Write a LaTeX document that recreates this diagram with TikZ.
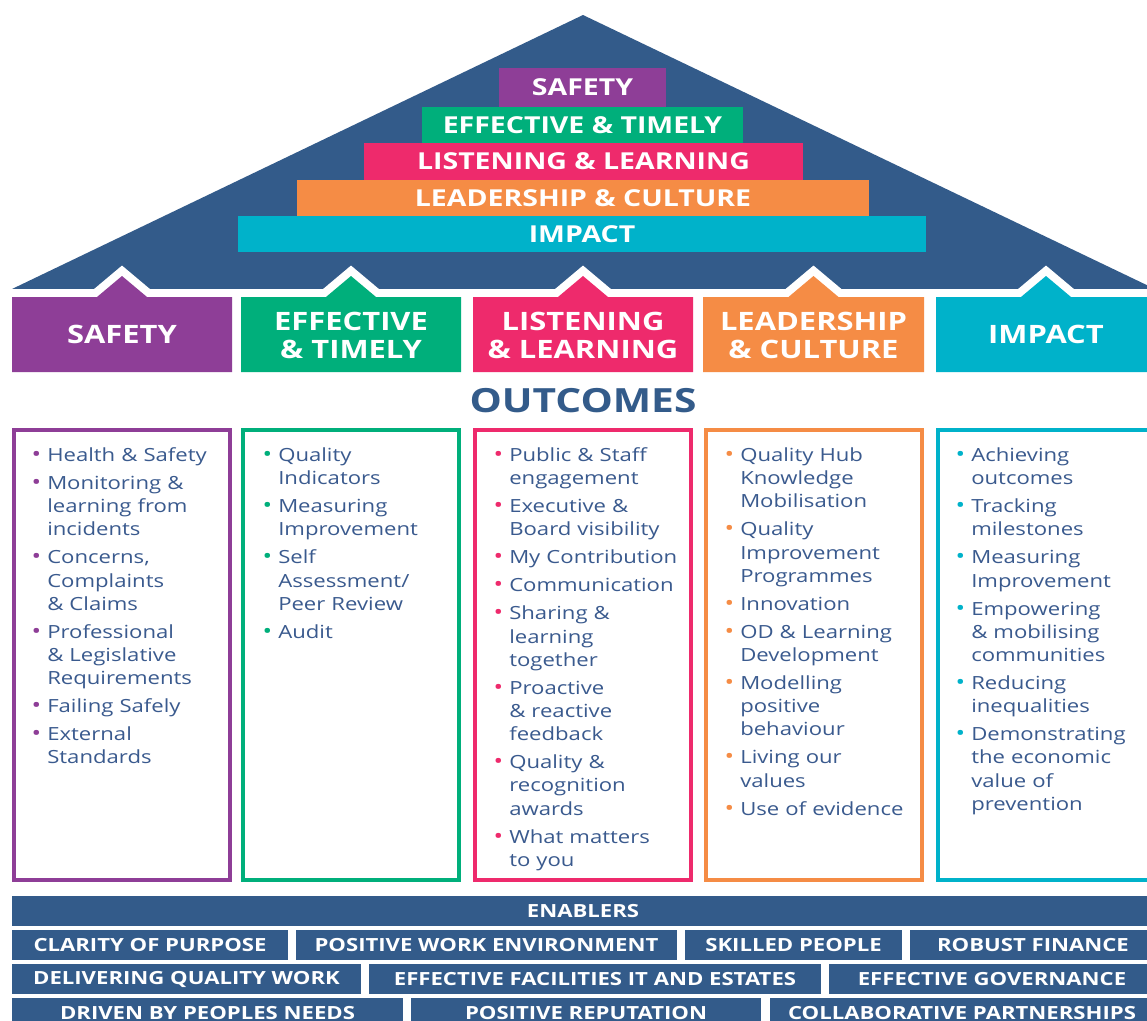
\documentclass[tikz,border=0pt]{standalone}
\usepackage{fontspec}
\setmainfont{Open Sans}[FakeStretch=1.22]
\usepackage{graphicx}
\definecolor{navy}{HTML}{335B8A}
\definecolor{cpur}{HTML}{8E3E97}
\definecolor{cgrn}{HTML}{00AF7B}
\definecolor{cpink}{HTML}{EE2A6C}
\definecolor{corg}{HTML}{F58C45}
\definecolor{cteal}{HTML}{00B2CA}
\definecolor{txtblue}{HTML}{3A5A8E}
\newcommand\itm{\leavevmode\llap{\textcolor{\bcol}{\scalebox{1.15}{\textbullet}}\hspace{4.5pt}}}
\tikzset{
  band/.style={inner sep=0pt, outer sep=0pt, text=white, font=\bfseries\fontsize{17.5}{19}\selectfont},
  hd/.style={inner sep=0pt, text=white, align=center, font=\bfseries\fontsize{19}{21}\selectfont},
  obox/.style={line width=3pt, inner sep=0pt, outer sep=0pt, minimum width=216*0.75pt, minimum height=450*0.75pt},
  col/.style={anchor=north west, inner sep=0pt, text width=150pt, align=left, text=txtblue,
    font=\fontsize{13.6}{17.4}\selectfont, execute at begin node={\def\bcol{#1}}},
  en/.style={fill=navy, inner sep=0pt, outer sep=0pt, text=white, font=\bfseries\fontsize{13.6}{15}\selectfont, minimum height=30*0.75pt},
}
\begin{document}
\begin{tikzpicture}[x=0.75pt,y=-0.75pt]
\useasboundingbox (0,0) rectangle (1147,1021);
\clip (0,0) rectangle (1147,1021);
\fill[white] (0,0) rectangle (1147,1021);
% roof
\fill[navy] (12,289) -- (583,15) -- (1155,289) -- cycle;
% roof bands
\node[band, fill=cpur,  minimum width=167*0.75pt, minimum height=39*0.75pt] (rs) at (582.5,87.5) {SAFETY};
\node[band, fill=cgrn,  minimum width=321*0.75pt, minimum height=36*0.75pt] (re) at (582.5,125) {EFFECTIVE \& TIMELY};
\node[band, fill=cpink, minimum width=439*0.75pt, minimum height=37*0.75pt] (rl) at (583.5,161.5) {LISTENING \& LEARNING};
\node[band, fill=corg,  minimum width=572*0.75pt, minimum height=36*0.75pt] (rc) at (583,198) {LEADERSHIP \& CULTURE};
\node[band, fill=cteal, minimum width=688*0.75pt, minimum height=36*0.75pt] (ri) at (582,234) {IMPACT};
% pillar heads: white outline
\foreach \L/\R/\C in {12/232/122, 241/461/351, 473/693/583, 703/924/813.5, 936/1156/1046}
  \draw[white, fill=white, line width=12pt, line join=miter]
    (\L,372) -- (\L,297) -- ({\C-25},297) -- (\C,276) -- ({\C+25},297) -- (\R,297) -- (\R,372) -- cycle;
\foreach \L/\R/\C/\cl in {12/232/122/cpur, 241/461/351/cgrn, 473/693/583/cpink, 703/924/813.5/corg, 936/1156/1046/cteal}
  \fill[\cl]
    (\L,372) -- (\L,297) -- ({\C-25},297) -- (\C,276) -- ({\C+25},297) -- (\R,297) -- (\R,372) -- cycle;
\node[hd] (hs) at (122,334) {SAFETY};
\node[hd] (he) at (351,335) {EFFECTIVE\\\& TIMELY};
\node[hd] (hl) at (583,335) {LISTENING\\\& LEARNING};
\node[hd] (hc) at (813.5,335) {LEADERSHIP\\\& CULTURE};
\node[hd] (hi) at (1046,334) {IMPACT};
% outcomes
\node[text=navy, inner sep=0pt, font=\bfseries\fontsize{25}{27}\selectfont] (out) at (583,401) {OUTCOMES};
\node[obox, draw=cpur]  (os) at (122,655) {};
\node[obox, draw=cgrn]  (oe) at (351,655) {};
\node[obox, draw=cpink] (ol) at (583,655) {};
\node[obox, draw=corg]  (oc) at (813.5,655) {};
\node[obox, draw=cteal] (oi) at (1046,655) {};
\node[col=cpur] (ts) at (47,445) {\itm\strut Health \& Safety\\[3.6pt]
 \itm Monitoring \&\\ learning from\\ incidents\\[3.6pt]
 \itm Concerns,\\ Complaints\\ \& Claims\\[3.6pt]
 \itm Professional\\ \& Legislative\\ Requirements\\[3.6pt]
 \itm Failing Safely\\[3.6pt]
 \itm External\\ Standards};
\node[col=cgrn] (te) at (278,445) {\itm\strut Quality\\ Indicators\\[3.6pt]
 \itm Measuring\\ Improvement\\[3.6pt]
 \itm Self\\ Assessment/\\ Peer Review\\[3.6pt]
 \itm Audit};
\node[col=cpink] (tl) at (509,445) {\itm\strut Public \& Staff\\ engagement\\[3.6pt]
 \itm Executive \&\\ Board visibility\\[3.6pt]
 \itm My Contribution\\[3.6pt]
 \itm Communication\\[3.6pt]
 \itm Sharing \&\\ learning\\ together\\[3.6pt]
 \itm Proactive\\ \& reactive\\ feedback\\[3.6pt]
 \itm Quality \&\\ recognition\\ awards\\[3.6pt]
 \itm What matters\\ to you};
\node[col=corg] (tc) at (740,445) {\itm\strut Quality Hub\\ Knowledge\\ Mobilisation\\[3.6pt]
 \itm Quality\\ Improvement\\ Programmes\\[3.6pt]
 \itm Innovation\\[3.6pt]
 \itm OD \& Learning\\ Development\\[3.6pt]
 \itm Modelling\\ positive\\ behaviour\\[3.6pt]
 \itm Living our\\ values\\[3.6pt]
 \itm Use of evidence};
\node[col=cteal] (ti) at (971,445) {\itm\strut Achieving\\ outcomes\\[3.6pt]
 \itm Tracking\\ milestones\\[3.6pt]
 \itm Measuring\\ Improvement\\[3.6pt]
 \itm Empowering\\ \& mobilising\\ communities\\[3.6pt]
 \itm Reducing\\ inequalities\\[3.6pt]
 \itm Demonstrating\\ the economic\\ value of\\ prevention};
% enablers
\node[en, minimum width=1142*0.75pt] (e0) at (583,911) {ENABLERS};
\node[en, minimum width=276*0.75pt] (e1) at (150,945) {CLARITY OF PURPOSE};
\node[en, minimum width=381*0.75pt] (e2) at (486.5,945) {POSITIVE WORK ENVIRONMENT};
\node[en, minimum width=217*0.75pt] (e3) at (793.5,945) {SKILLED PEOPLE};
\node[en, minimum width=246*0.75pt] (e4) at (1033,945) {ROBUST FINANCE};
\node[en, minimum width=349*0.75pt] (e5) at (186.5,979) {DELIVERING QUALITY WORK};
\node[en, minimum width=452*0.75pt] (e6) at (595,979) {EFFECTIVE FACILITIES IT AND ESTATES};
\node[en, minimum width=326*0.75pt] (e7) at (992,979) {EFFECTIVE GOVERNANCE};
\node[en, minimum width=391*0.75pt] (e8) at (207.5,1013) {DRIVEN BY PEOPLES NEEDS};
\node[en, minimum width=350*0.75pt] (e9) at (586,1013) {POSITIVE REPUTATION};
\node[en, minimum width=384*0.75pt] (e10) at (962,1013) {COLLABORATIVE PARTNERSHIPS};
\end{tikzpicture}
\end{document}
